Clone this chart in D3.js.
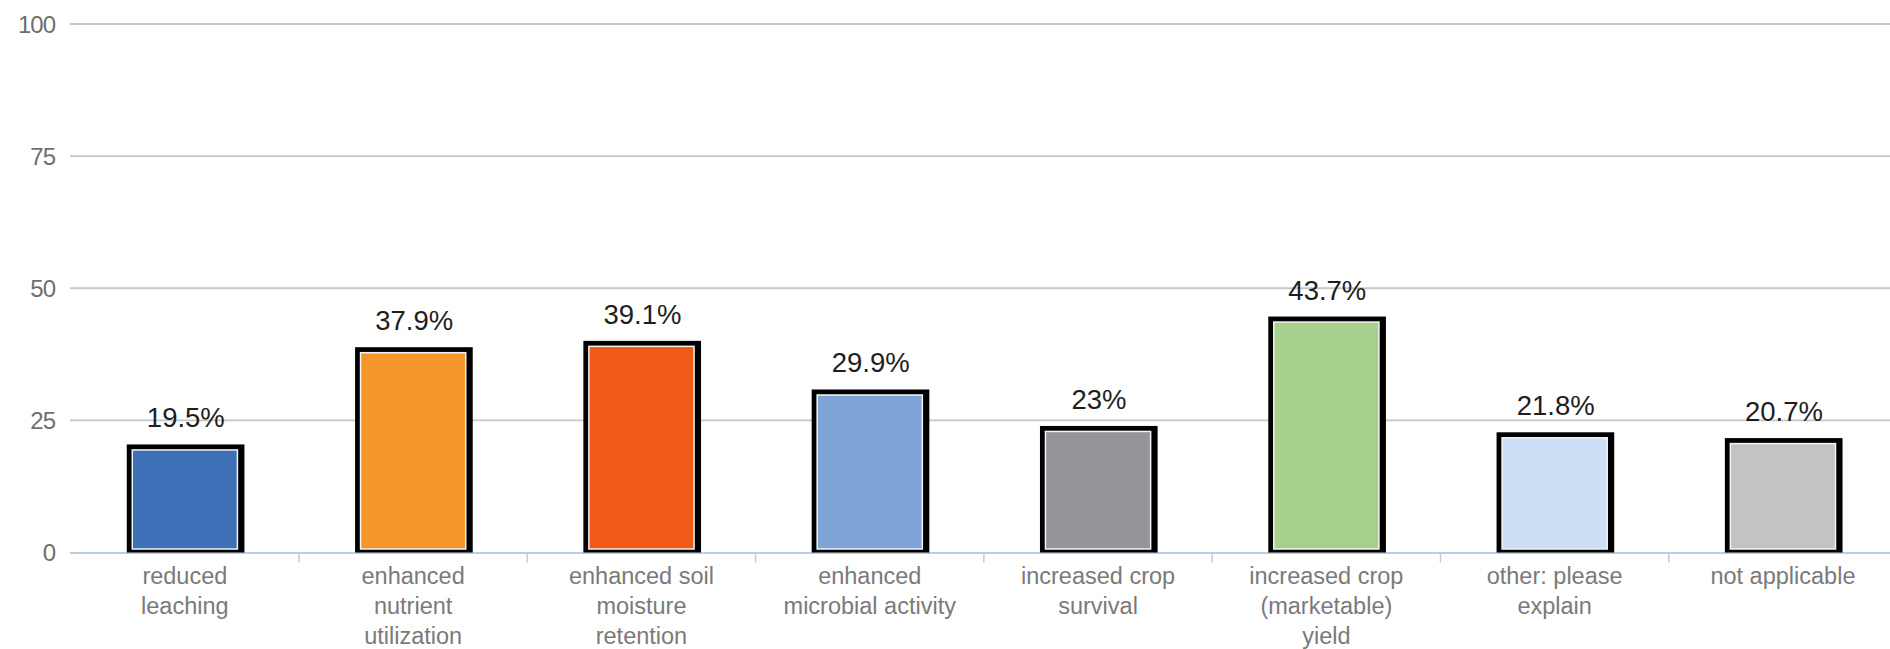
<!DOCTYPE html>
<html><head><meta charset="utf-8">
<script src="https://cdn.jsdelivr.net/npm/d3@7"></script>
<style>body{margin:0;background:#fff;overflow:hidden}svg{display:block}</style>
</head><body>
<svg id="c" width="1890" height="649"></svg>
<script>
const categories = [
  ["reduced","leaching"],
  ["enhanced","nutrient","utilization"],
  ["enhanced soil","moisture","retention"],
  ["enhanced","microbial activity"],
  ["increased crop","survival"],
  ["increased crop","(marketable)","yield"],
  ["other: please","explain"],
  ["not applicable"]
];
const values = [19.5, 37.9, 39.1, 29.9, 23, 43.7, 21.8, 20.7];
const valueLabels = ["19.5%","37.9%","39.1%","29.9%","23%","43.7%","21.8%","20.7%"];
const colors = ["#3e70b8","#f5962a","#ef5a17","#7ea3d6","#939598","#a8d08d","#cddff4","#c3c3c3"];
const yTicks = [0, 25, 50, 75, 100];

const svg = d3.select("#c");
const x = d3.scaleBand().domain(d3.range(categories.length)).range([70.7, 70.7 + 8*228.3]).padding(0);
const y = d3.scaleLinear().domain([0,100]).range([552.5, 24]);
const barW = x.bandwidth()*0.465;

// gridlines
svg.append("g").selectAll("line").data(yTicks.filter(d=>d>0)).join("line")
  .attr("x1",70).attr("x2",1890)
  .attr("y1",d=>y(d)).attr("y2",d=>y(d))
  .attr("stroke","#c6c6c6").attr("stroke-width",1.8);

// y tick labels
svg.append("g").selectAll("text").data(yTicks).join("text")
  .attr("x",55).attr("y",d=>y(d)+8.5)
  .attr("text-anchor","end")
  .attr("font-family","Liberation Sans, Arial, sans-serif")
  .attr("font-size",24).attr("fill","#6e6e6e")
  .attr("letter-spacing","-1")
  .text(d=>d);

// baseline
svg.append("line").attr("x1",70).attr("x2",1890).attr("y1",y(0)+0.5).attr("y2",y(0)+0.5)
  .attr("stroke","#b9cde5").attr("stroke-width",1.8);
svg.append("g").selectAll("line").data(d3.range(1,categories.length)).join("line")
  .attr("x1",d=>x(d)).attr("x2",d=>x(d))
  .attr("y1",y(0)).attr("y2",y(0)+10)
  .attr("stroke","#b9cde5").attr("stroke-width",1.5);

// bars
const g = svg.append("g");
values.forEach((v,i)=>{
  const cx = x(i) + x.bandwidth()/2;
  const x0 = cx - barW/2;
  g.append("rect").attr("x",x0-5).attr("y",y(v)-5)
    .attr("width",barW+11.5).attr("height",y(0)-y(v)+5)
    .attr("fill","#000");
  g.append("rect").attr("x",x0+0.5).attr("y",y(v)+0.5)
    .attr("width",barW-1).attr("height",y(0)-y(v)-4)
    .attr("fill",colors[i]).attr("stroke","#f4f4f4").attr("stroke-width",1.5);
  g.append("text").attr("x",cx+1).attr("y",y(v)-22)
    .attr("text-anchor","middle")
    .attr("font-family","Liberation Sans, Arial, sans-serif")
    .attr("font-size",27.5).attr("fill","#1e1e1e")
    .text(valueLabels[i]);
});

// category labels
const lab = svg.append("g");
categories.forEach((lines,i)=>{
  const cx = x(i) + x.bandwidth()/2;
  const t = lab.append("text").attr("text-anchor","middle")
    .attr("font-family","Liberation Sans, Arial, sans-serif")
    .attr("font-size",23.5).attr("fill","#7a7a7a");
  lines.forEach((s,j)=>{
    t.append("tspan").attr("x",cx).attr("y",584+j*29.8).text(s);
  });
});
</script>
</body></html>
